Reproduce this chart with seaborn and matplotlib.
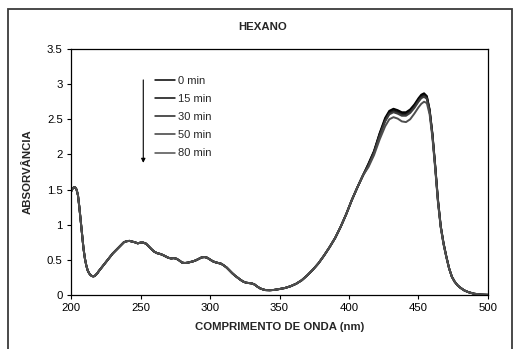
import matplotlib
matplotlib.use("Agg")
import matplotlib.pyplot as plt
import seaborn as sns
import pandas as pd
from matplotlib.patches import Rectangle

# ---- data ----
wl_uv = [200, 201, 202, 203, 204, 205, 206, 207, 208, 209, 210, 211, 212, 213, 214, 215,
         216, 217, 218, 219, 220, 222, 224, 226, 228, 230, 232, 234, 236, 238, 240, 242,
         244, 246, 248, 250, 252, 254, 256, 258, 260, 262, 264, 266, 268, 270, 272, 274,
         276, 278, 280, 282, 284, 286, 288, 290, 292, 294, 296, 298, 300, 302, 304, 306,
         308, 310, 312, 314, 316, 318, 320, 322, 324, 326, 328, 330, 332, 334, 336, 338,
         340, 343, 346, 350, 354, 358, 362, 366, 370, 374, 378, 382, 386, 390, 394, 398,
         402, 406, 410]
abs_uv = [1.47, 1.51, 1.53, 1.53, 1.50, 1.42, 1.25, 1.05, 0.85, 0.66, 0.52, 0.42, 0.35, 0.31, 0.285, 0.27,
          0.265, 0.27, 0.29, 0.31, 0.34, 0.39, 0.44, 0.49, 0.54, 0.59, 0.63, 0.67, 0.71, 0.75, 0.765, 0.77,
          0.76, 0.75, 0.735, 0.745, 0.745, 0.73, 0.69, 0.65, 0.615, 0.595, 0.585, 0.57, 0.55, 0.53, 0.52, 0.525,
          0.515, 0.49, 0.46, 0.455, 0.46, 0.47, 0.48, 0.495, 0.515, 0.535, 0.54, 0.53, 0.505, 0.48, 0.465, 0.455,
          0.445, 0.42, 0.39, 0.35, 0.31, 0.275, 0.245, 0.215, 0.19, 0.175, 0.17, 0.165, 0.15, 0.12, 0.095, 0.08,
          0.07, 0.068, 0.072, 0.085, 0.10, 0.125, 0.16, 0.21, 0.28, 0.36, 0.45, 0.56, 0.68, 0.81, 0.97, 1.15,
          1.35, 1.53, 1.70]

wl_vis = [414, 418, 422, 426, 429, 432, 435, 438, 441, 444, 447, 450, 452, 454, 456, 458,
          460, 462, 464, 466, 468, 470, 472, 474, 476, 478, 480, 483, 486, 490, 495, 500]
abs_vis_0 = [1.87, 2.05, 2.30, 2.52, 2.62, 2.65, 2.63, 2.60, 2.60, 2.64, 2.71, 2.80, 2.85, 2.87, 2.83, 2.64,
             2.30, 1.85, 1.36, 0.98, 0.74, 0.55, 0.38, 0.26, 0.19, 0.14, 0.105, 0.065, 0.04, 0.018, 0.006, 0.002]
abs_vis_15 = [1.86, 2.04, 2.29, 2.50, 2.60, 2.63, 2.61, 2.58, 2.58, 2.62, 2.69, 2.78, 2.83, 2.85, 2.82, 2.63,
              2.29, 1.84, 1.35, 0.98, 0.74, 0.55, 0.38, 0.26, 0.19, 0.14, 0.105, 0.065, 0.04, 0.018, 0.006, 0.002]
abs_vis_30 = [1.85, 2.03, 2.27, 2.48, 2.585, 2.615, 2.595, 2.565, 2.565, 2.605, 2.675, 2.765, 2.815, 2.835, 2.805, 2.62,
              2.28, 1.83, 1.34, 0.97, 0.73, 0.55, 0.38, 0.26, 0.19, 0.14, 0.105, 0.065, 0.04, 0.018, 0.006, 0.002]
abs_vis_50 = [1.84, 2.02, 2.26, 2.47, 2.57, 2.60, 2.58, 2.55, 2.55, 2.59, 2.66, 2.75, 2.80, 2.82, 2.79, 2.61,
              2.27, 1.82, 1.33, 0.97, 0.73, 0.54, 0.38, 0.26, 0.19, 0.14, 0.105, 0.065, 0.04, 0.018, 0.006, 0.002]
abs_vis_80 = [1.82, 1.99, 2.21, 2.40, 2.50, 2.53, 2.51, 2.47, 2.46, 2.50, 2.58, 2.67, 2.72, 2.75, 2.73, 2.57,
              2.24, 1.80, 1.32, 0.96, 0.72, 0.54, 0.38, 0.26, 0.19, 0.14, 0.105, 0.065, 0.04, 0.018, 0.006, 0.002]

series_labels = ["0 min", "15 min", "30 min", "50 min", "80 min"]
series_vis = [abs_vis_0, abs_vis_15, abs_vis_30, abs_vis_50, abs_vis_80]
series_colors = ["#000000", "#0a0a0a", "#222222", "#3c3c3c", "#4e4e4e"]

x_ticks = [200, 250, 300, 350, 400, 450, 500]
y_ticks = [0, 0.5, 1, 1.5, 2, 2.5, 3, 3.5]
y_tick_labels = ["0", "0.5", "1", "1.5", "2", "2.5", "3", "3.5"]

rows = []
for lab, vis in zip(series_labels, series_vis):
    for w, a in zip(wl_uv + wl_vis, abs_uv + vis):
        rows.append({"wl": w, "abs": a, "series": lab})
df = pd.DataFrame(rows)

# ---- plotting ----
sns.set_style("ticks")
plt.rcParams['font.family'] = ['Liberation Sans', 'DejaVu Sans']

W, H = 514, 349
fig = plt.figure(figsize=(W / 100, H / 100), dpi=100)
ax = fig.add_axes([71 / W, 1 - 295 / H, 417 / W, 246 / H])

sns.lineplot(data=df, x="wl", y="abs", hue="series", hue_order=series_labels,
             palette=dict(zip(series_labels, series_colors)), ax=ax,
             linewidth=1.4, estimator=None, sort=False)

ax.set_xlim(200, 500)
ax.set_ylim(0, 3.5)
ax.set_xticks(x_ticks)
ax.set_xticklabels([str(t) for t in x_ticks])
ax.set_yticks(y_ticks)
ax.set_yticklabels(y_tick_labels)
for s in ax.spines.values():
    s.set_visible(True)
    s.set_color("black")
    s.set_linewidth(0.9)
ax.tick_params(axis="both", direction="out", length=3, width=0.8, color="black",
               labelsize=8.2, labelcolor="black", pad=3)
ax.set_xlabel("COMPRIMENTO DE ONDA (nm)", fontsize=8.2, fontweight="bold", labelpad=6)
ax.set_ylabel("ABSORVÂNCIA", fontsize=8.2, fontweight="bold", labelpad=10)

handles, labels = ax.get_legend_handles_labels()
for h in handles:
    h.set_linewidth(1.1)
ax.legend(handles, labels, frameon=False, loc="upper left",
          bbox_to_anchor=((155 - 71) / 417, (295 - 76) / 246),
          borderpad=0, borderaxespad=0, handlelength=1.8, handletextpad=0.3,
          labelspacing=0.73, fontsize=8)

# arrow next to legend
ax.annotate("", xy=(252, 1.88), xytext=(252, 3.06),
            arrowprops=dict(arrowstyle="-|>", color="black", lw=0.8,
                            mutation_scale=6, shrinkA=0, shrinkB=0))

fig.text(263 / W, 1 - 27 / H, "HEXANO", ha="center", va="center",
         fontsize=8.2, fontweight="bold")

# outer chart frame (left, top, right)
fig.patches.append(Rectangle((8 / W, -0.1), (512 - 8) / W, 1 - 9 / H + 0.1,
                             transform=fig.transFigure, fill=False,
                             edgecolor="#3a3a3a", linewidth=1.3))

fig.savefig("out.png", dpi=100)
